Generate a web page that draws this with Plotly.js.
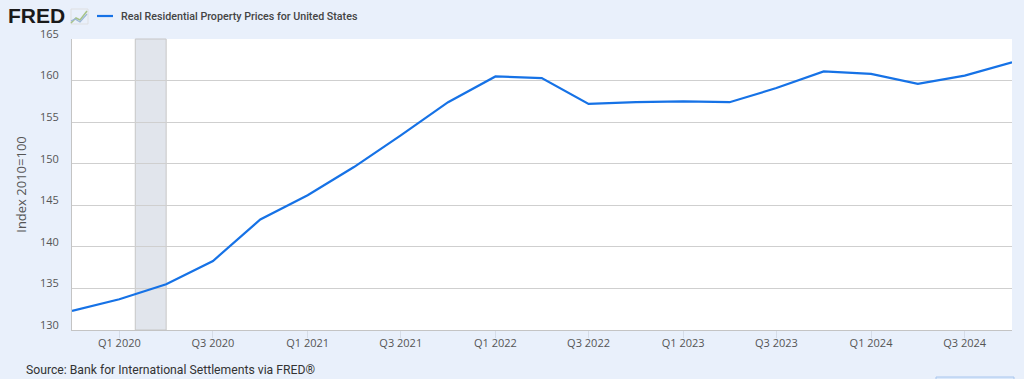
<!DOCTYPE html>
<html>
<head>
<meta charset="utf-8">
<script src="https://cdn.plot.ly/plotly-3.0.1.min.js"></script>
<style>
  html, body { margin: 0; padding: 0; background: #e9f0fb; }
  #chart { width: 1024px; height: 379px; }
</style>
</head>
<body>
<div id="chart"></div>
<script>
// Quarterly observations (Q4 2019 .. Q4 2024)
const dates = ["2019-10-01","2020-01-01","2020-04-01","2020-07-01","2020-10-01",
               "2021-01-01","2021-04-01","2021-07-01","2021-10-01",
               "2022-01-01","2022-04-01","2022-07-01","2022-10-01",
               "2023-01-01","2023-04-01","2023-07-01","2023-10-01",
               "2024-01-01","2024-04-01","2024-07-01","2024-10-01"];
const values = [132.3, 133.7, 135.5, 138.3, 143.3,
                146.2, 149.6, 153.4, 157.4,
                160.5, 160.3, 157.2, 157.4,
                157.5, 157.4, 159.1, 161.1,
                160.8, 159.6, 160.6, 162.2];
const tickVals = ["2020-01-01","2020-07-01","2021-01-01","2021-07-01","2022-01-01",
                  "2022-07-01","2023-01-01","2023-07-01","2024-01-01","2024-07-01"];
const tickText = ["Q1 2020","Q3 2020","Q1 2021","Q3 2021","Q1 2022",
                  "Q3 2022","Q1 2023","Q3 2023","Q1 2024","Q3 2024"];
const yTicks = [130, 135, 140, 145, 150, 155, 160, 165];
const recession = ["2020-02-01", "2020-04-01"];
const seriesName = "Real Residential Property Prices for United States";
const yTitle = "Index 2010=100";
const sourceText = "Source: Bank for International Settlements via FRED®";

// pixel helpers for decorations outside the plot area
const L = 72, T = 39, W = 940, H = 291;
const px = x => (x - L) / W;
const py = y => (T + H - y) / H;

const trace = {
  x: dates, y: values, type: "scatter", mode: "lines",
  name: seriesName,
  line: { color: "#1672e6", width: 2.2 },
  showlegend: false, hoverinfo: "x+y"
};

const layout = {
  width: 1024, height: 379,
  margin: { l: L, r: 1024 - L - W, t: T, b: 379 - T - H },
  paper_bgcolor: "#e9f0fb",
  plot_bgcolor: "#ffffff",
  font: { family: "Open Sans, Noto Sans, sans-serif", color: "#555555" },
  xaxis: {
    type: "date",
    range: ["2019-10-01", "2024-10-01"],
    tickmode: "array", tickvals: tickVals, ticktext: tickText,
    showgrid: false, zeroline: false,
    showline: true, linecolor: "#c4c4c4", linewidth: 1,
    ticks: "outside", ticklen: 7, tickcolor: "#d6dde8", tickwidth: 1,
    ticklabelstandoff: -4,
    tickfont: { size: 11, color: "#555555", family: "Open Sans, sans-serif" },
    fixedrange: true
  },
  yaxis: {
    range: [130, 165],
    tickmode: "array", tickvals: yTicks,
    showgrid: true, gridcolor: "#cfcfcf", gridwidth: 1,
    zeroline: false,
    showline: true, linecolor: "#c4c4c4", linewidth: 1,
    ticks: "", ticklabelstandoff: 10, ticklabelshift: -5,
    tickfont: { size: 11, color: "#555555", family: "Open Sans, sans-serif" },
    title: { text: yTitle, standoff: 10, font: { size: 13, color: "#555555", family: "Open Sans, sans-serif" } },
    automargin: false,
    fixedrange: true
  },
  shapes: [
    { type: "rect", xref: "x", yref: "paper", x0: recession[0], x1: recession[1], y0: 0, y1: 1,
      fillcolor: "#e1e5ec", line: { color: "#c6c6c6", width: 1 }, layer: "below" },
    // legend sample line
    { type: "line", xref: "paper", yref: "paper", x0: px(97), x1: px(113), y0: py(16), y1: py(16),
      line: { color: "#1672e6", width: 2.2 } },
    // small FRED chart icon
    { type: "rect", xref: "paper", yref: "paper", x0: px(71), x1: px(88), y0: py(24), y1: py(9),
      fillcolor: "rgba(0,0,0,0)", line: { color: "#dcdcdc", width: 0.8 } },
    { type: "path", xref: "paper", yref: "paper",
      path: `M ${px(71)},${py(23)} L ${px(76)},${py(18)} L ${px(80)},${py(20)} L ${px(87)},${py(11)}`,
      line: { color: "#a7c489", width: 1.5 } },
    { type: "path", xref: "paper", yref: "paper",
      path: `M ${px(71)},${py(21)} L ${px(75)},${py(19)} L ${px(80)},${py(22)} L ${px(87)},${py(14)}`,
      line: { color: "#9bb6d6", width: 1.2 } },
    // partial button at bottom right
    { type: "rect", xref: "paper", yref: "paper", x0: px(936), x1: px(1014), y0: py(386), y1: py(377),
      fillcolor: "#dbe8fa", line: { color: "#a9c7ee", width: 1 } }
  ],
  annotations: [
    { text: "<b>FRED</b>", xref: "paper", yref: "paper", x: px(6), y: py(15.5),
      xanchor: "left", yanchor: "middle", showarrow: false,
      font: { family: "Liberation Sans, Arial, sans-serif", size: 21, color: "#1a1a1a" } },
    { text: seriesName, xref: "paper", yref: "paper", x: px(119), y: py(16),
      xanchor: "left", yanchor: "middle", showarrow: false,
      font: { family: "Roboto, sans-serif", size: 10.7, color: "#444444", weight: 500 } },
    { text: sourceText, xref: "paper", yref: "paper", x: px(24), y: py(370),
      xanchor: "left", yanchor: "middle", showarrow: false,
      font: { family: "Roboto, sans-serif", size: 12.2, color: "#333333" } }
  ]
};

Plotly.newPlot("chart", [trace], layout, { displayModeBar: false, staticPlot: false });
</script>
</body>
</html>
